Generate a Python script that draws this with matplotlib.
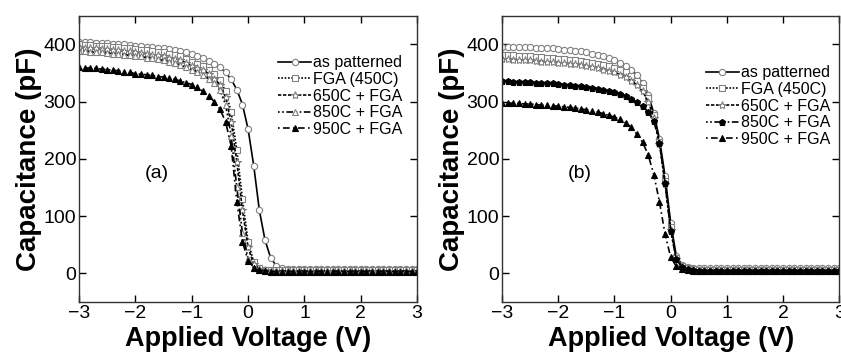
import numpy as np
import matplotlib
matplotlib.use('Agg')
import matplotlib.pyplot as plt

plt.rcParams['font.family'] = ['Liberation Sans', 'DejaVu Sans']

# applied voltage grid (V)
voltage = [round(-3.0 + 0.1 * i, 1) for i in range(61)]

labels = ['as patterned', 'FGA (450C)', '650C + FGA', '850C + FGA', '950C + FGA']

# panel (a) capacitance (pF)
a_patterned = [405, 404, 404, 403, 403, 402, 401, 401, 400, 399,
               398, 397, 396, 395, 394, 393, 392, 390, 388, 386,
               383, 380, 376, 371, 366, 360, 351, 339, 321, 295,
               252, 188, 110, 58, 27, 13, 9, 8, 8, 7,
               7, 7, 7, 7, 7, 7, 7, 7, 7, 7,
               7, 7, 7, 7, 7, 7, 7, 7, 8, 8, 8]
a_fga = [400, 399, 399, 398, 397, 397, 396, 395, 394, 393,
         392, 391, 390, 389, 387, 386, 384, 382, 379, 375,
         370, 366, 362, 356, 348, 338, 318, 282, 215, 130,
         55, 20, 9, 6, 5, 5, 5, 5, 5, 5,
         5, 5, 5, 5, 5, 5, 5, 5, 5, 5,
         5, 5, 5, 5, 5, 5, 5, 5, 5, 5, 5]
a_650 = [395, 394, 394, 393, 392, 392, 391, 390, 389, 388,
         386, 385, 384, 382, 381, 379, 377, 375, 372, 368,
         363, 359, 355, 349, 340, 330, 308, 265, 195, 110,
         45, 16, 8, 5, 4, 4, 4, 4, 4, 4,
         4, 4, 4, 4, 4, 4, 4, 4, 4, 4,
         4, 4, 4, 4, 4, 4, 4, 4, 4, 4, 4]
a_850 = [388, 388, 387, 386, 386, 385, 384, 383, 382, 381,
         380, 379, 377, 376, 374, 372, 370, 367, 364, 360,
         356, 352, 347, 340, 333, 320, 295, 240, 150, 70,
         25, 10, 6, 4, 4, 4, 4, 4, 4, 4,
         4, 4, 4, 4, 4, 4, 4, 4, 4, 4,
         4, 4, 4, 4, 4, 4, 4, 4, 4, 4, 4]
a_950 = [360, 359, 359, 358, 357, 356, 355, 354, 352, 351,
         349, 348, 347, 346, 344, 343, 341, 339, 336, 333,
         330, 325, 318, 310, 300, 287, 265, 222, 125, 55,
         22, 9, 5, 4, 3, 3, 3, 3, 3, 3,
         3, 3, 3, 3, 3, 3, 3, 3, 3, 3,
         3, 3, 3, 3, 3, 3, 3, 3, 3, 3, 3]

# panel (b) capacitance (pF)
b_patterned = [396, 396, 395, 395, 395, 395, 394, 394, 393, 393,
               392, 391, 390, 389, 388, 386, 384, 382, 379, 376,
               372, 368, 363, 356, 346, 332, 312, 280, 235, 170,
               88, 30, 15, 11, 10, 9, 9, 9, 9, 9,
               9, 9, 9, 9, 9, 9, 9, 9, 9, 9,
               9, 9, 9, 9, 9, 9, 9, 9, 9, 9, 9]
b_fga = [382, 381, 381, 380, 380, 379, 378, 378, 377, 376,
         375, 374, 373, 372, 371, 369, 368, 366, 364, 362,
         359, 355, 351, 345, 336, 324, 306, 276, 230, 162,
         80, 27, 13, 9, 7, 6, 6, 6, 6, 6,
         6, 6, 6, 6, 6, 6, 6, 6, 6, 6,
         6, 6, 6, 6, 6, 6, 6, 6, 6, 6, 6]
b_650 = [374, 374, 373, 373, 372, 372, 371, 370, 369, 369,
         368, 367, 366, 365, 364, 362, 360, 358, 356, 354,
         351, 347, 343, 337, 329, 318, 300, 272, 226, 156,
         75, 25, 12, 8, 6, 5, 5, 5, 5, 5,
         5, 5, 5, 5, 5, 5, 5, 5, 5, 5,
         5, 5, 5, 5, 5, 5, 5, 5, 5, 5, 5]
b_850 = [336, 336, 335, 335, 334, 334, 333, 333, 332, 332,
         331, 330, 329, 328, 327, 326, 324, 322, 320, 319,
         317, 314, 310, 305, 299, 292, 282, 266, 228, 158,
         74, 24, 11, 7, 5, 4, 4, 4, 4, 4,
         4, 4, 4, 4, 4, 4, 4, 4, 4, 4,
         4, 4, 4, 4, 4, 4, 4, 4, 4, 4, 4]
b_950 = [298, 298, 297, 297, 296, 296, 295, 294, 294, 293,
         292, 291, 290, 289, 287, 286, 284, 282, 279, 276,
         273, 269, 263, 255, 243, 229, 207, 172, 125, 68,
         28, 12, 7, 5, 4, 4, 4, 4, 4, 4,
         4, 4, 4, 4, 4, 4, 4, 4, 4, 4,
         4, 4, 4, 4, 4, 4, 4, 4, 4, 4, 4]

lines_a = [a_patterned, a_fga, a_650, a_850, a_950]
lines_b = [b_patterned, b_fga, b_650, b_850, b_950]

styles = ['-', (0, (1, 1)), (0, (2, 1)), (0, (1, 1.5, 1, 1.5, 4, 1.5)), (0, (1, 2, 4, 2))]
markers_a = ['o', 's', '*', '^', '^']
markers_b = ['o', 's', '*', 'p', '^']
filled_a = [False, False, False, False, True]
filled_b = [False, False, False, True, True]


def draw_panel(ax, series, markers, filled, tag, legend_anchor):
    for y, lab, ls, m, f in zip(series, labels, styles, markers, filled):
        ax.plot(voltage, y, color='black', linestyle=ls, linewidth=1.2,
                marker=m, markersize=4.5 if m != '*' else 6,
                markerfacecolor='black' if f else 'white',
                markeredgecolor='black' if f else '0.5',
                markeredgewidth=0.8, label=lab)
    ax.set_xlim(-3, 3)
    ax.set_ylim(-50, 450)
    ax.set_xticks(np.arange(-3, 4, 1))
    ax.set_yticks(np.arange(0, 500, 100))
    ax.tick_params(direction='in', top=True, right=True, length=5, width=1,
                   labelsize=14, pad=2)
    ax.set_xlabel('Applied Voltage (V)', fontsize=19.5, fontweight='bold', labelpad=3.5)
    ax.set_ylabel('Capacitance (pF)', fontsize=20, fontweight='bold', labelpad=1)
    ax.text(-1.62, 175, tag, fontsize=14, ha='center', va='center')
    ax.legend(loc='upper right', bbox_to_anchor=legend_anchor, frameon=False,
              fontsize=11.5, handlelength=2.1, handletextpad=0.1,
              labelspacing=0.1, borderpad=0, borderaxespad=0)
    for s in ax.spines.values():
        s.set_linewidth(1)
        s.set_color('0.2')


fig = plt.figure(figsize=(8.41, 3.53), dpi=100)
ax1 = fig.add_axes([0.094, 0.145, 0.402, 0.81])
ax2 = fig.add_axes([0.597, 0.145, 0.401, 0.81])

draw_panel(ax1, lines_a, markers_a, filled_a, '(a)', (0.956, 0.862))
draw_panel(ax2, lines_b, markers_b, filled_b, '(b)', (0.973, 0.827))

fig.savefig('out.png', dpi=100)
